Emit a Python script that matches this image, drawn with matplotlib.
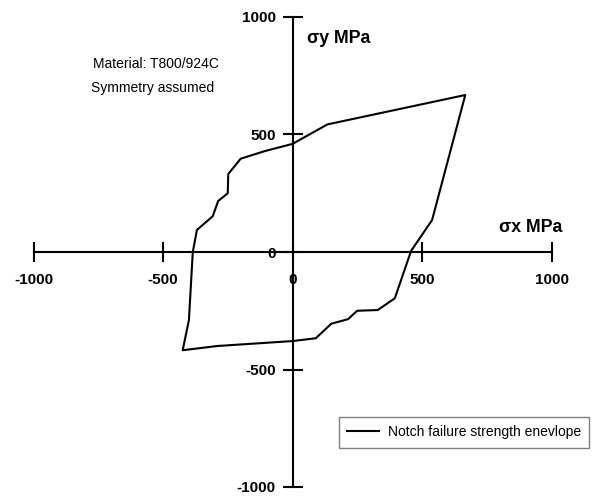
import numpy as np
import matplotlib
matplotlib.use('Agg')
import matplotlib.pyplot as plt

plt.rcParams['font.family'] = ['Liberation Sans', 'DejaVu Sans']

# failure envelope (MPa)
sx = [0, -105, -200, -248, -250, -287, -308, -369, -385, -400, -424, -290,
      0, 90, 150, 214, 250, 329, 395, 458, 539, 667, 135, 0]
sy = [460, 430, 397, 332, 250, 217, 152, 94, 0, -290, -418, -400,
      -379, -367, -305, -286, -250, -247, -197, 5, 136, 668, 543, 460]

ticks = [-1000, -500, 0, 500, 1000]
tick_labels = ['-1000', '-500', '0', '500', '1000']

fig = plt.figure(figsize=(5.92, 4.96), dpi=100)
ax = fig.add_axes([33.5 / 592, 9 / 496, 518 / 592, 470 / 496])

ax.plot(sx, sy, color='black', lw=1.5, label='Notch failure strength enevlope')

ax.set_xlim(-1000, 1000)
ax.set_ylim(-1000, 1000)
for s in ['top', 'right']:
    ax.spines[s].set_visible(False)
ax.spines['left'].set_position(('data', 0))
ax.spines['bottom'].set_position(('data', 0))
for s in ['left', 'bottom']:
    ax.spines[s].set_linewidth(1.5)

ax.set_xticks(ticks)
ax.set_xticklabels(tick_labels)
ax.set_yticks(ticks)
ax.set_yticklabels(tick_labels)
ax.tick_params(direction='inout', length=14.4, width=1.5, labelsize=11)
ax.tick_params(axis='x', pad=8)
ax.tick_params(axis='y', pad=5)
for lab in ax.get_xticklabels() + ax.get_yticklabels():
    lab.set_fontweight('bold')

ax.text(55, 908, 'σy MPa', fontsize=12.8, fontweight='bold', va='center', ha='left')
ax.text(798, 106, 'σx MPa', fontsize=12.8, fontweight='bold', va='center', ha='left')

ax.text(-526, 800, 'Material: T800/924C', fontsize=10, ha='center', va='center')
ax.text(-542, 698, 'Symmetry assumed', fontsize=10, ha='center', va='center')

leg = ax.legend(loc='upper left', bbox_to_anchor=(339 / 592, 1 - 417 / 496),
                bbox_transform=fig.transFigure, borderaxespad=0,
                fancybox=False, edgecolor='gray', framealpha=1,
                fontsize=10, handlelength=2.3, handletextpad=0.6, borderpad=0.6)
leg.get_frame().set_linewidth(1)

fig.savefig('out.png', dpi=100)
